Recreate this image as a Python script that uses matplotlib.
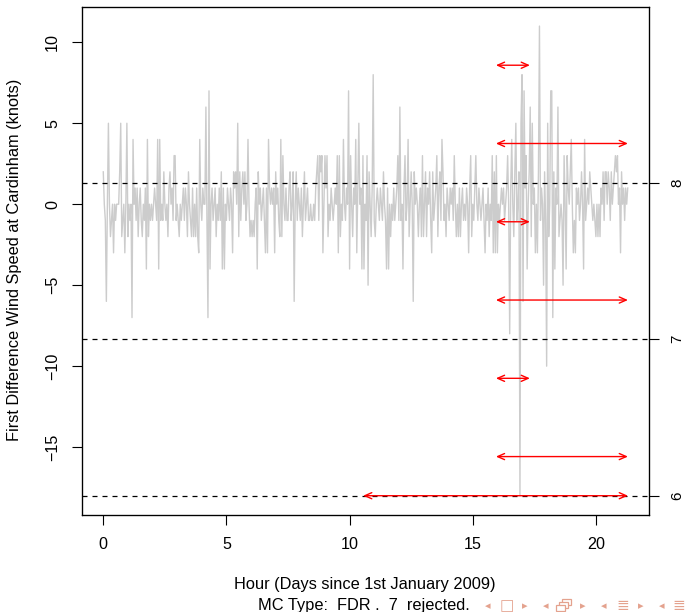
import numpy as np
import matplotlib
matplotlib.use("Agg")
import matplotlib.pyplot as plt
from matplotlib.patches import Rectangle

plt.rcParams['font.family'] = ['Liberation Sans', 'DejaVu Sans']

# hourly first differences of wind speed (knots), starting 1 Jan 2009 00:00
wind_diff = [
    2, 0, -1, -6, 0, 5, 0, -2, -1, 0, -3, 0, -1, 0, 0, 0, 2, 5, -2, -1, 0, -3, 0, 5,
    -2, 0, -1, 0, -7, 4, 0, 1, -1, 1, -2, 0, 1, -1, -2, 0, -1, 1, -4, 4, -2, 0, -1, 0,
    -1, 0, 1, 0, -1, 4, -4, 4, -1, 0, -1, 2, 0, -1, 0, -2, 1, 2, 0, 1, -1, 3, 3, -1,
    0, -1, -2, 0, -1, 0, 1, -1, 1, 0, -2, 2, 0, -1, -2, 1, -2, 0, -2, 1, -2, -3, 4, 0,
    -1, 1, 0, 0, 6, -1, -7, 7, -4, 0, 1, -1, 0, 1, -2, 0, -1, 1, -1, 2, -4, 1, -4, 0,
    -1, 1, 0, -1, 1, 0, -3, 2, 1, 2, 0, 5, -2, 2, -1, 1, 2, 0, 2, -1, 0, 4, 0, -2,
    -1, -2, -1, -2, 0, 1, -4, 2, 0, 1, -1, 0, 1, -1, -3, 1, -3, 4, 1, 0, 1, 0, 1, -3,
    2, 0, 1, -1, -2, 4, -2, 3, 0, -1, 1, -1, -1, 1, 2, -1, 0, 2, -6, 0, 2, -1, 1, 0,
    -1, 1, -2, 0, 2, -1, 0, 1, -1, -1, 0, -1, -1, 0, -1, 1, 2, 3, -1, 3, 2, 3, -3, 0,
    3, 1, 3, -2, 0, -1, 1, 0, -1, 0, 1, 0, 3, -3, 3, -2, 0, -1, 4, 0, -1, 1, 0, 7,
    -4, 3, 0, -2, 1, 0, 4, -3, 1, 5, 0, 1, -4, 3, -4, 0, -1, 3, -5, 2, 0, -2, 1, 8,
    -1, -2, 0, 1, 0, -1, 1, 0, -1, 2, 0, -1, -4, 1, -4, 0, -2, 0, -1, 1, -1, 0, 1, 3,
    -1, 6, -1, 0, -4, 1, 3, -1, 0, 4, -2, 0, 2, 0, -6, 2, 0, 1, 0, -2, 0, 1, -2, 3,
    -2, 0, 2, -2, 1, 0, 2, -1, -3, 2, -1, 0, 1, 3, -2, 1, 2, -1, 4, 2, -1, 0, -2, 1,
    0, -1, 1, 0, 1, -1, 3, 0, -2, 0, -2, 1, -2, 0, 1, -1, 0, -1, 1, 0, -3, 1, 3, -2,
    0, -1, 1, 3, 0, -1, 1, 0, -1, 0, 1, -1, -3, 0, -1, 1, -2, 0, -1, 3, -3, 2, -3, 3,
    -3, 0, -1, 0, 1, 0, 1, -1, 0, 1, 3, 0, -8, 1, 4, 0, -2, 2, 5, -1, 0, 2, -18, 5,
    8, -6, 7, 1, 3, -4, 0, 2, 6, -2, 5, 0, 1, -3, 0, -3, 2, 11, -1, 1, 0, -5, 2, -1,
    -10, 5, -2, 0, 7, 7, -7, 2, -4, 1, 0, 6, -2, -1, 0, -1, -5, 3, 0, -4, 3, 1, 0, 2,
    4, 0, -3, -1, -3, 1, 0, 1, -1, 0, 2, 0, -4, 4, -1, 0, 1, 0, 2, 1, 0, -1, 0, -1,
    -2, 0, -2, 0, -2, 1, 0, 2, -1, 2, 2, 0, 2, 1, -1, 2, 0, 1, 2, 3, 2, 3, 0, 1,
    -3, 2, 0, 1, -1, 1, 0, 1,
]

# threshold levels shown on the right-hand axis
level_ticks = [8, 7, 6]

# red interval arrows: (start day, end day, level on the right-hand scale)
arrow_start = [15.94, 15.94, 15.94, 15.94, 15.94, 15.94, 10.55]
arrow_end = [17.32, 21.3, 17.32, 21.3, 17.32, 21.3, 21.3]
arrow_level = [8.75, 8.25, 7.75, 7.25, 6.75, 6.25, 6.0]

days = np.arange(len(wind_diff)) / 24.0
y_min, y_max = min(wind_diff), max(wind_diff)


def level_to_value(k):
    # levels 6..9 span the data range linearly
    return y_min + (k - 6) * (y_max - y_min) / 3.0


def r_range(lo, hi):
    pad = 0.04 * (hi - lo)
    return lo - pad, hi + pad


W, H = 688, 612
fig = plt.figure(figsize=(W / 100, H / 100), dpi=100)
ax = fig.add_axes([82.3 / W, (H - 514.5) / H, 566.4 / W, 507.2 / H])

ax.plot(days, wind_diff, color='#cccccc', lw=1.0)

for k in level_ticks:
    ax.axhline(level_to_value(k), color='black', lw=0.9, ls=(0, (4, 4)))

for x0, x1, k in zip(arrow_start, arrow_end, arrow_level):
    y = level_to_value(k)
    ax.annotate('', xy=(x1, y), xytext=(x0, y),
                arrowprops=dict(arrowstyle='<->,head_length=0.5,head_width=0.22',
                                color='red', lw=1.0, shrinkA=0, shrinkB=0,
                                mutation_scale=10))

ax.set_xlim(*r_range(days[0], days[-1]))
ax.set_ylim(*r_range(y_min, y_max))
ax.set_xticks([0, 5, 10, 15, 20])
ax.set_yticks([-15, -10, -5, 0, 5, 10])
ax.tick_params(axis='x', length=7, width=0.8, labelsize=11.6, pad=9)
ax.tick_params(axis='y', length=7, width=0.8, labelsize=11.6, pad=9)
for lab in ax.get_yticklabels():
    lab.set_rotation(90)
    lab.set_va('center')
for sp in ax.spines.values():
    sp.set_linewidth(0.9)

ax2 = ax.twinx()
ax2.set_ylim(ax.get_ylim())
ax2.set_yticks([level_to_value(k) for k in level_ticks])
ax2.set_yticklabels([str(k) for k in level_ticks], rotation=90, va='center')
ax2.tick_params(axis='y', length=7.5, width=0.8, labelsize=11, pad=8)

fig.text(15 / W, 1 - 260 / H, 'First Difference Wind Speed at Cardinham (knots)',
         rotation=90, ha='center', va='center', fontsize=11.8)
fig.text(365 / W, 1 - 589 / H, 'Hour (Days since 1st January 2009)',
         ha='center', va='baseline', fontsize=11.8)
fig.text(364 / W, 1 - 610 / H, 'MC Type:  FDR .  7  rejected.',
         ha='center', va='baseline', fontsize=11.8)

# beamer-style navigation symbols along the bottom edge
nav_color = '#e4a28e'
nav_glyphs = ['\u25c2', '\u25a1', '\u25b8', '\u25c2', '\u25b8',
              '\u25c2', '\u2263', '\u25b8', '\u25c2', '\u2263']
nav_x = [488, 507, 525, 546, 583, 604, 623, 641, 662, 679]
for g, gx in zip(nav_glyphs, nav_x):
    size = 8 if g in ('\u25c2', '\u25b8') else 11
    fig.text(gx / W, 1 - 606 / H, g, ha='center', va='center',
             fontsize=size, color=nav_color, family=['DejaVu Sans'])

# stacked-frames icon (no installed font has this glyph)
for dx, dy in [(6, -6), (3, -3), (0, 0)]:
    x0, y0 = 556 + dx, 611 + dy
    fig.add_artist(Rectangle((x0 / W, 1 - y0 / H), 9 / W, 6 / H,
                             transform=fig.transFigure, facecolor='white',
                             edgecolor=nav_color, lw=0.9))

fig.savefig('out.png', dpi=100)
